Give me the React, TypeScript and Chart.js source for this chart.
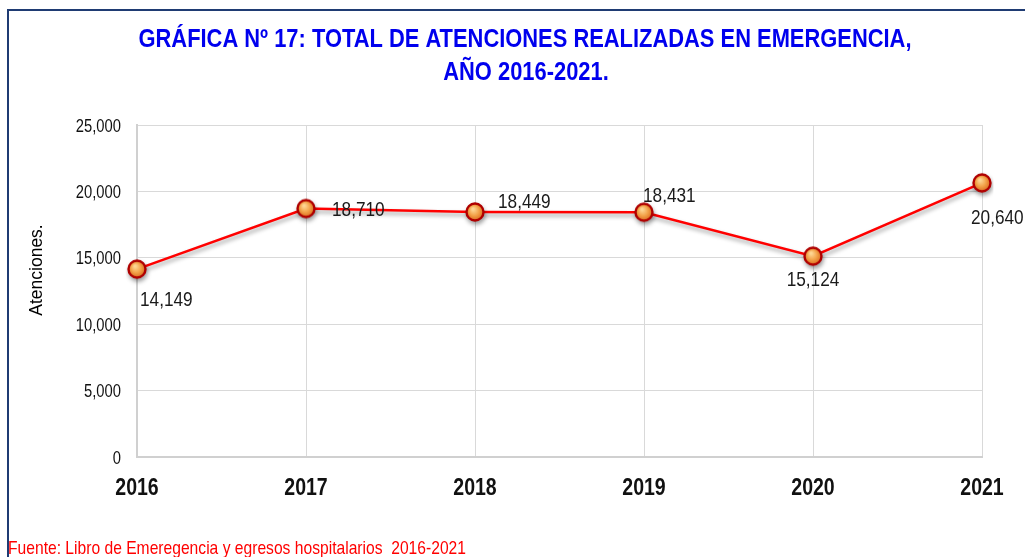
import React, { useEffect, useRef } from "react";
import { Chart, registerables } from "chart.js";

Chart.register(...registerables);

const categories = ["2016", "2017", "2018", "2019", "2020", "2021"];
const atenciones = [14149, 18710, 18449, 18431, 15124, 20640];
const yTicks = [0, 5000, 10000, 15000, 20000, 25000];
// label offset from its point: [dx, dy (text centre), align]
const labelOffsets: [number, number, CanvasTextAlign][] = [
  [3, 29, "left"],
  [26, 0, "left"],
  [23, -11, "left"],
  [-1, -18, "left"],
  [0, 22, "center"],
  [-11, 34, "left"],
];

const TITLE_1 = "GRÁFICA Nº 17: TOTAL DE ATENCIONES REALIZADAS EN EMERGENCIA,";
const TITLE_2 = "AÑO 2016-2021.";
const Y_TITLE = "Atenciones.";
const SOURCE = "Fuente: Libro de Emeregencia y egresos hospitalarios  2016-2021";

const FONT = "'Liberation Sans', Arial, sans-serif";
const NARROW_X = 0.82;

function narrowText(
  ctx: CanvasRenderingContext2D,
  text: string,
  x: number,
  y: number,
  font: string,
  align: CanvasTextAlign,
  sx: number = NARROW_X
) {
  ctx.save();
  ctx.font = font;
  ctx.textAlign = align;
  ctx.textBaseline = "alphabetic";
  ctx.translate(x, y);
  ctx.scale(sx, 1);
  ctx.fillText(text, 0, 0);
  ctx.restore();
}

function makeMarker(): HTMLCanvasElement {
  const c = document.createElement("canvas");
  c.width = 22;
  c.height = 22;
  const g = c.getContext("2d")!;
  const grad = g.createRadialGradient(9, 8, 1, 11, 11, 9);
  grad.addColorStop(0, "#FDD592");
  grad.addColorStop(0.5, "#F3A34A");
  grad.addColorStop(1, "#D8661A");
  g.beginPath();
  g.arc(11, 11, 8.5, 0, Math.PI * 2);
  g.fillStyle = grad;
  g.fill();
  g.lineWidth = 2.4;
  g.strokeStyle = "#B00000";
  g.stroke();
  return c;
}

const decorPlugin = {
  id: "decor",
  beforeDraw(chart: any) {
    const ctx = chart.ctx;
    ctx.save();
    ctx.fillStyle = "#ffffff";
    ctx.fillRect(0, 0, chart.width, chart.height);
    ctx.fillStyle = "#1F3B73";
    ctx.fillRect(7, 9, chart.width - 7, 2);
    ctx.fillRect(7, 9, 2, chart.height - 9);
    ctx.restore();
  },
  afterDraw(chart: any) {
    const ctx: CanvasRenderingContext2D = chart.ctx;
    ctx.save();

    // title, fitted to reference width
    ctx.fillStyle = "#0000EE";
    const tFont = `bold 25.5px ${FONT}`;
    ctx.font = tFont;
    const w1 = ctx.measureText(TITLE_1).width;
    const sx = 773 / w1;
    narrowText(ctx, TITLE_1, 525, 47, tFont, "center", sx);
    narrowText(ctx, TITLE_2, 526, 80, tFont, "center", sx);

    // y axis title
    ctx.save();
    ctx.fillStyle = "#000000";
    ctx.font = `17.5px ${FONT}`;
    ctx.textAlign = "center";
    ctx.textBaseline = "alphabetic";
    ctx.translate(42, 270);
    ctx.rotate(-Math.PI / 2);
    ctx.fillText(Y_TITLE, 0, 0);
    ctx.restore();

    // y ticks
    const ys = chart.scales.y;
    ctx.fillStyle = "#111111";
    yTicks.forEach((v) => {
      const py = ys.getPixelForValue(v);
      narrowText(ctx, v.toLocaleString("en-US"), 121, py + 6.5, `18px ${FONT}`, "right");
    });

    // x ticks
    const xs = chart.scales.x;
    categories.forEach((c, i) => {
      const px = xs.getPixelForValue(i);
      narrowText(ctx, c, px, 495, `bold 23px ${FONT}`, "center", 0.85);
    });

    // source
    ctx.fillStyle = "#FF0000";
    narrowText(ctx, SOURCE, 8, 554, `18.5px ${FONT}`, "left", 0.845);

    // data labels
    const meta = chart.getDatasetMeta(0);
    ctx.fillStyle = "#1a1a1a";
    meta.data.forEach((pt: any, i: number) => {
      const [dx, dy, al] = labelOffsets[i];
      narrowText(
        ctx,
        atenciones[i].toLocaleString("en-US"),
        pt.x + dx,
        pt.y + dy + 7.5,
        `21px ${FONT}`,
        al
      );
    });
    ctx.restore();
  },
  beforeDatasetDraw(chart: any) {
    const ctx = chart.ctx;
    ctx.save();
    ctx.shadowColor = "rgba(0,0,0,0.38)";
    ctx.shadowBlur = 4;
    ctx.shadowOffsetX = 1;
    ctx.shadowOffsetY = 3;
  },
  afterDatasetDraw(chart: any) {
    chart.ctx.restore();
  },
};

export default function App() {
  const ref = useRef<HTMLCanvasElement>(null);
  useEffect(() => {
    if (!ref.current) return;
    const marker = makeMarker();
    const chart = new Chart(ref.current, {
      type: "line",
      data: {
        labels: categories,
        datasets: [
          {
            data: atenciones,
            borderColor: "#FF0000",
            borderWidth: 2.5,
            tension: 0,
            pointStyle: marker as any,
            pointRadius: 9,
            pointHoverRadius: 9,
          },
        ],
      },
      options: {
        responsive: false,
        animation: false,
        devicePixelRatio: 1,
        layout: { padding: { top: 125, right: 43, left: 0, bottom: 0 } },
        plugins: {
          legend: { display: false },
          title: { display: false },
          tooltip: { enabled: false },
        },
        scales: {
          x: {
            offset: false,
            grid: { color: "#D9D9D9", lineWidth: 1, drawTicks: false },
            border: { color: "#D0D0D0", width: 2 },
            ticks: { display: false },
            afterFit: (s: any) => {
              s.height = 100;
            },
          },
          y: {
            min: 0,
            max: 25000,
            afterBuildTicks: (s: any) => {
              s.ticks = yTicks.map((v) => ({ value: v }));
            },
            grid: { color: "#D9D9D9", lineWidth: 1, drawTicks: false },
            border: { color: "#D0D0D0", width: 2 },
            ticks: { display: false },
            afterFit: (s: any) => {
              s.width = 137;
            },
          },
        },
      },
      plugins: [decorPlugin],
    });
    return () => chart.destroy();
  }, []);
  return (
    <div style={{ position: "fixed", left: 0, top: 0, width: 1025, height: 557, background: "#fff" }}>
      <canvas ref={ref} width={1025} height={557} style={{ width: 1025, height: 557 }} />
    </div>
  );
}
